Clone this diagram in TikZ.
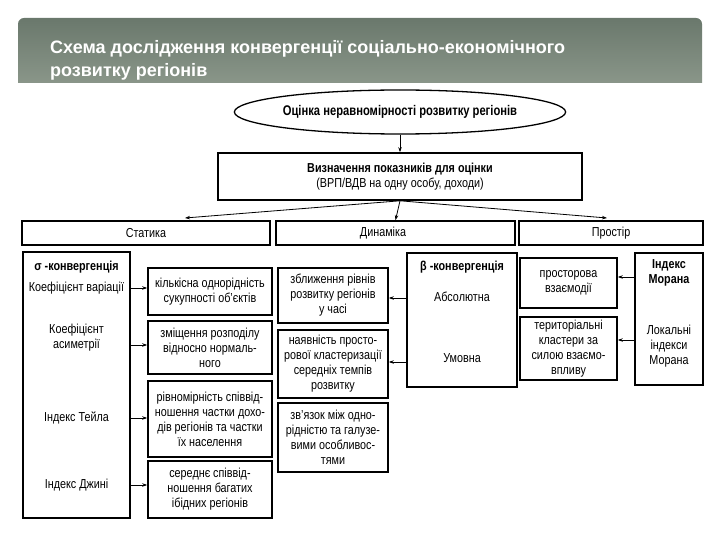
\documentclass[tikz,border=0pt]{standalone}
\usepackage{fontspec}
\setmainfont{Liberation Sans}
\newfontfamily\dfont[FakeStretch=0.83]{Liberation Sans}
\newfontfamily\efont[FakeStretch=0.8]{Liberation Sans}
\newfontfamily\tfont{Liberation Sans}
\usetikzlibrary{arrows.meta,shapes.geometric}
\definecolor{bandtop}{RGB}{106,120,108}
\definecolor{bandbot}{RGB}{142,154,141}
\tikzset{
  boxn/.style={draw, line width=1.6pt, inner sep=1pt, align=center,
    font=\dfont\fontsize{13}{15}\selectfont},
  txt/.style={inner sep=0pt, align=center, font=\dfont\fontsize{13}{15}\selectfont},
  btxt/.style={inner sep=0pt, align=center, font=\dfont\bfseries\fontsize{13}{15}\selectfont},
  ttl/.style={inner sep=0pt, text=white, font=\tfont\bfseries\fontsize{18}{21}\selectfont},
  arr/.style={-{Stealth[length=5pt,width=3.5pt]}, line width=0.8pt},
}
\begin{document}
\begin{tikzpicture}[x=1pt,y=-1pt]
\useasboundingbox (0,0) rectangle (720,540);
% title band
\begin{scope}
  \clip (0,0) rectangle (720,83);
  \shade[top color=bandtop, bottom color=bandbot, rounded corners=6pt] (18,18) rectangle (702,92);
\end{scope}
\node[ttl, anchor=base west] (t1) at (50,54) {Схема дослідження конвергенції соціально-економічного};
\node[ttl, anchor=base west] (t2) at (50,77) {розвитку регіонів};

% top
\node[draw, ellipse, line width=1.3pt, minimum width=300pt, minimum height=44pt, inner sep=0pt,
  font=\efont\bfseries\fontsize{14}{15}\selectfont] (ell) at (400,112) {Оцінка неравномірності розвитку регіонів};
\node[boxn, minimum width=364pt, minimum height=47pt] (def) at (400,176.5)
  {{\bfseries Визначення показників для оцінки}\\(ВРП/ВДВ на одну особу, доходи)};
\draw[arr] (ell.south) -- (def.north);

% second row
\node[boxn, minimum width=248pt, minimum height=24pt] (stat) at (146,233) {Статика};
\node[boxn, minimum width=239pt, minimum height=24pt] (dyn) at (395.5,233) {};
\node[txt] (dynt) at (383,233) {Динаміка};
\node[boxn, minimum width=184pt, minimum height=24pt] (pros) at (611,233) {Простір};
\coordinate (cl) at (185,218);
\coordinate (cr) at (607,218);
\draw[arr] (def.south) -- (cl);
\draw[arr] (def.south) -- (dyn.north);
\draw[arr] (def.south) -- (cr);

% sigma block
\node[boxn, minimum width=107pt, minimum height=266pt] (sig) at (76.5,385) {};
\node[btxt] (sg0) at (76.5,267) {σ -конвергенція};
\node[txt] (sg1) at (76.5,288) {Коефіцієнт варіації};
\node[txt] (sg2) at (76.5,338) {Коефіцієнт\\асиметрії};
\node[txt] (sg3) at (76.5,418) {Індекс Тейла};
\node[txt] (sg4) at (76.5,485) {Індекс Джині};

\node[boxn, minimum width=124pt, minimum height=47pt] (l1) at (210,291.5) {кількісна однорідність\\сукупності об’єктів};
\node[boxn, minimum width=124pt, minimum height=53pt] (l2) at (210,347.5) {зміщення розподілу\\відносно нормаль-\\ного};
\node[boxn, minimum width=124pt, minimum height=76pt] (l3) at (210,419) {рівномірність співвід-\\ношення частки дохо-\\дів регіонів та частки\\їх населення};
\node[boxn, minimum width=124pt, minimum height=57pt] (l4) at (210,489.5) {середнє співвід-\\ношення багатих\\ібідних регіонів};
\coordinate (a1) at (0,288);
\coordinate (a2) at (0,345);
\coordinate (a3) at (0,418);
\coordinate (a4) at (0,485);
\draw[arr] (sig.east |- a1) -- (l1.west |- a1);
\draw[arr] (sig.east |- a2) -- (l2.west |- a2);
\draw[arr] (sig.east |- a3) -- (l3.west |- a3);
\draw[arr] (sig.east |- a4) -- (l4.west |- a4);

% beta block
\node[boxn, minimum width=110pt, minimum height=134pt] (beta) at (462,320) {};
\node[btxt] (bt0) at (462,267) {β -конвергенція};
\node[txt] (bt1) at (462,297) {Абсолютна};
\node[txt] (bt2) at (462,358) {Умовна};
\node[boxn, minimum width=110pt, minimum height=55pt] (m1) at (333,295.5) {зближення рівнів\\розвитку регіонів\\у часі};
\node[boxn, minimum width=110pt, minimum height=68pt] (m2) at (333,364) {наявність просто-\\рової кластеризації\\середніх темпів\\розвитку};
\node[boxn, minimum width=110pt, minimum height=69pt] (m3) at (333,437.5) {зв’язок між одно-\\рідністю та галузе-\\вими особливос-\\тями};
\coordinate (b1) at (0,298);
\coordinate (b2) at (0,362);
\draw[arr] (beta.west |- b1) -- (m1.east |- b1);
\draw[arr] (beta.west |- b2) -- (m2.east |- b2);

% Moran block
\node[boxn, minimum width=68pt, minimum height=132pt] (mor) at (669,319) {};
\node[btxt] (mo0) at (669,273) {Індекс\\Морана};
\node[txt] (mo1) at (669,346) {Локальні\\індекси\\Морана};
\node[boxn, minimum width=97pt, minimum height=50pt] (r1) at (568.5,283) {просторова\\взаємодії};
\node[boxn, minimum width=97pt, minimum height=63pt] (r2) at (568.5,348.5) {територіальні\\кластери за\\силою взаємо-\\впливу};
\coordinate (c1) at (0,277);
\coordinate (c2) at (0,340);
\draw[arr] (mor.west |- c1) -- (r1.east |- c1);
\draw[arr] (mor.west |- c2) -- (r2.east |- c2);
\end{tikzpicture}
\end{document}
